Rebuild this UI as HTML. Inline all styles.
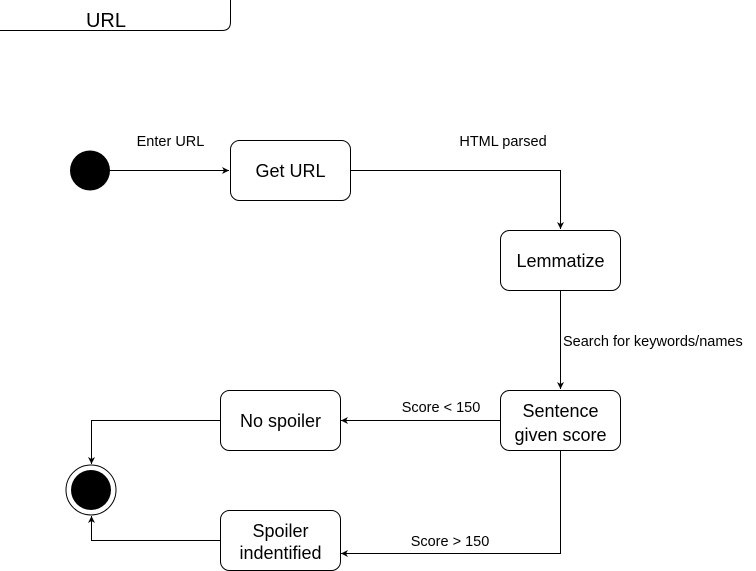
<!DOCTYPE html>
<html><head><meta charset="utf-8"><style>
body{margin:0;background:#fff;}
svg{display:block;font-family:"Liberation Sans",Helvetica,Arial,sans-serif;}
</style></head><body>
<svg width="756" height="571" viewBox="0 0 756 571" xmlns="http://www.w3.org/2000/svg">
<defs><marker id="a" markerWidth="8" markerHeight="8" refX="7" refY="4" orient="auto" markerUnits="userSpaceOnUse"><path d="M0,0.5 L7,4 L0,7.5 L2,4 Z" fill="#000"/></marker></defs>
<g fill="none" stroke="#000" stroke-width="1">
<path d="M0,30.5 H222 Q230.5,30.5 230.5,22 V0"/>
<rect x="230.5" y="140.5" width="120" height="60" rx="9"/>
<rect x="500.5" y="230.5" width="120" height="60" rx="9"/>
<rect x="500.5" y="390.5" width="120" height="60" rx="9"/>
<rect x="220.5" y="390.5" width="120" height="60" rx="9"/>
<rect x="220.5" y="510.5" width="120" height="60" rx="9"/>
<circle cx="91" cy="490" r="25"/>
<path d="M110,170.5 H229" marker-end="url(#a)"/>
<path d="M350.5,170.5 H560.5 V229" marker-end="url(#a)"/>
<path d="M560.5,290.5 V389" marker-end="url(#a)"/>
<path d="M500.5,420.5 H341" marker-end="url(#a)"/>
<path d="M560.5,450.5 V553.5 H341" marker-end="url(#a)"/>
<path d="M220.5,420.5 H91.5 V464" marker-end="url(#a)"/>
<path d="M220.5,540.5 H91.5 V516" marker-end="url(#a)"/>
</g>
<circle cx="90" cy="170.5" r="20" fill="#000"/>
<circle cx="91" cy="490" r="20" fill="#000"/>
<g font-size="18" text-anchor="middle" fill="#000">
<text x="106" y="27" font-size="20">URL</text>
<text x="290.5" y="177">Get URL</text>
<text x="560.5" y="267">Lemmatize</text>
<text x="560.5" y="417">Sentence</text>
<text x="560.5" y="441">given score</text>
<text x="280.5" y="427">No spoiler</text>
<text x="280.5" y="537">Spoiler</text>
<text x="280.5" y="559">indentified</text>
</g>
<g font-size="14.5" fill="#000">
<text x="170.5" y="146" text-anchor="middle">Enter URL</text>
<text x="503" y="146" text-anchor="middle">HTML parsed</text>
<text x="563" y="346">Search for keywords/names</text>
<text x="441" y="412" text-anchor="middle">Score &lt; 150</text>
<text x="450" y="546" text-anchor="middle">Score &gt; 150</text>
</g>
</svg>
</body></html>
